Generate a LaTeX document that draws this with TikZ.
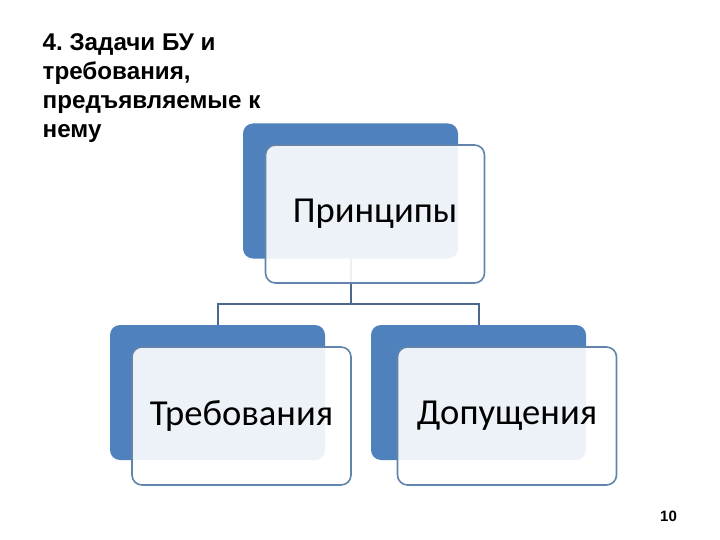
\documentclass[tikz,border=0pt]{standalone}
\usepackage{fontspec}
\setmainfont{Liberation Sans}
\newfontfamily\boxfont{Carlito}
\definecolor{backblue}{RGB}{79,129,189}
\definecolor{frontline}{RGB}{98,132,172}
\definecolor{connline}{RGB}{76,104,138}
\frenchspacing
\begin{document}
\begin{tikzpicture}[x=1pt,y=-1pt,
  backbox/.style={fill=backblue, rounded corners=10pt, minimum width=215pt, minimum height=135pt, inner sep=0pt},
  frontbox/.style={fill=white, fill opacity=0.9, text opacity=1, draw=frontline, line width=1.6pt, rounded corners=10pt, minimum width=219pt, minimum height=138pt, inner sep=0pt, font=\boxfont\fontsize{36.6}{42}\selectfont},
  conn/.style={draw=connline, line width=2pt},
  title/.style={font=\bfseries\fontsize{24.2}{29}\selectfont, align=left, anchor=base west, inner sep=0pt}]
\useasboundingbox (0,0) rectangle (720,540);
\fill[white] (0,0) rectangle (720,540);
% back boxes
\node[backbox] (tb) at (350.5,191) {};
\node[backbox] (lb) at (217.5,392.5) {};
\node[backbox] (rb) at (478.5,392.5) {};
% connectors
\coordinate (j) at (350.5,304);
\draw[conn] (tb.south) -- (j);
\draw[conn] (j) -| (lb.north);
\draw[conn] (j) -| (rb.north);
% front boxes
\node[frontbox] (tf) at (375,214) {Принципы};
\node[frontbox] (lf) at (241.5,416) {Требования};
\node[frontbox] (rf) at (507,416) {Допущения};
% title (anchored at the baseline of its last line)
\node[title] (ttl) at (42.5,138) {4. Задачи БУ и\\требования,\\предъявляемые к\\нему};
\node[font=\bfseries\fontsize{15}{17}\selectfont] (pg) at (668.5,516) {10};
\end{tikzpicture}
\end{document}
